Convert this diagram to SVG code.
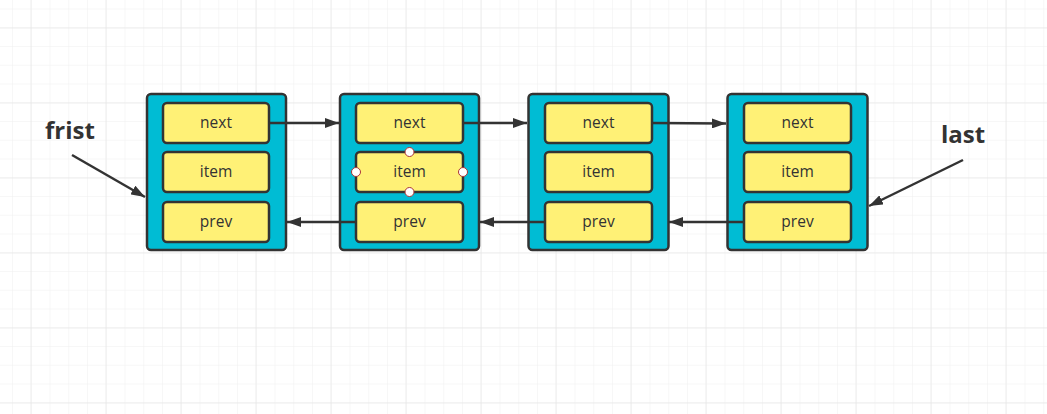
<svg xmlns="http://www.w3.org/2000/svg" width="1047" height="414" viewBox="0 0 1047 414">
<defs>
<pattern id="minor" x="12" y="8.5" width="18.75" height="18.75" patternUnits="userSpaceOnUse">
<path d="M0 0H18.75M0 0V18.75" fill="none" stroke="#f0f0f0" stroke-width="1"/>
</pattern>
<pattern id="major" x="30.5" y="27.5" width="75" height="75" patternUnits="userSpaceOnUse">
<path d="M0 0H75M0 0V75" fill="none" stroke="#e2e2e2" stroke-width="1"/>
</pattern>
<marker id="arr" viewBox="0 0 14 10" refX="14" refY="5" markerWidth="14" markerHeight="10" markerUnits="userSpaceOnUse" orient="auto">
<path d="M0 0L14 5L0 10Z" fill="#333"/>
</marker>
<style>
.outer{fill:#00bcd4;stroke:#333;stroke-width:2.5}
.inner{fill:#fff176;stroke:#333;stroke-width:2.5}
.t{font-family:"Open Sans","Noto Sans",sans-serif;font-size:15.5px;fill:#333;text-anchor:middle}
.big{font-family:"Open Sans","Noto Sans",sans-serif;font-size:24px;font-weight:bold;fill:#333}
.c{fill:none;stroke:#333;stroke-width:2.5;marker-end:url(#arr)}
.h{fill:#fff;stroke:#a33;stroke-width:1}
</style>
</defs>
<rect width="1047" height="414" fill="#fff"/>
<rect width="1047" height="414" fill="url(#minor)"/>
<rect width="1047" height="414" fill="url(#major)"/>

<g id="node1">
<rect class="outer" x="147" y="94" width="139" height="156" rx="4"/>
<rect class="inner" x="163" y="103" width="106" height="40" rx="4"/>
<rect class="inner" x="163" y="152" width="106" height="40" rx="4"/>
<rect class="inner" x="163" y="202" width="106" height="40" rx="4"/>
<text class="t" x="216" y="128">next</text>
<text class="t" x="216" y="177">item</text>
<text class="t" x="216" y="227">prev</text>
</g>
<g id="node2">
<rect class="outer" x="340" y="94" width="139" height="156" rx="4"/>
<rect class="inner" x="356" y="103" width="107" height="40" rx="4"/>
<rect class="inner" x="356" y="152" width="107" height="40" rx="4"/>
<rect class="inner" x="356" y="202" width="107" height="40" rx="4"/>
<text class="t" x="409.5" y="128">next</text>
<text class="t" x="409.5" y="177">item</text>
<text class="t" x="409.5" y="227">prev</text>
<circle class="h" cx="409.5" cy="152" r="4.5"/>
<circle class="h" cx="409.5" cy="192" r="4.5"/>
<circle class="h" cx="356" cy="172" r="4.5"/>
<circle class="h" cx="463" cy="172" r="4.5"/>
</g>
<g id="node3">
<rect class="outer" x="528.5" y="94" width="140" height="156" rx="4"/>
<rect class="inner" x="545" y="103" width="107" height="40" rx="4"/>
<rect class="inner" x="545" y="152" width="107" height="40" rx="4"/>
<rect class="inner" x="545" y="202" width="107" height="40" rx="4"/>
<text class="t" x="598.5" y="128">next</text>
<text class="t" x="598.5" y="177">item</text>
<text class="t" x="598.5" y="227">prev</text>
</g>
<g id="node4">
<rect class="outer" x="727.5" y="94" width="140" height="156" rx="4"/>
<rect class="inner" x="744" y="103" width="107" height="40" rx="4"/>
<rect class="inner" x="744" y="152" width="107" height="40" rx="4"/>
<rect class="inner" x="744" y="202" width="107" height="40" rx="4"/>
<text class="t" x="797.5" y="128">next</text>
<text class="t" x="797.5" y="177">item</text>
<text class="t" x="797.5" y="227">prev</text>
</g>
<g id="label-frist"><text class="big" x="45" y="139">frist</text></g>
<g id="label-last"><text class="big" x="941" y="143">last</text></g>

<g id="connectors">
<path class="c" d="M269 123H339"/>
<path class="c" d="M463 123H527"/>
<path class="c" d="M652 123L726 123.5"/>
<path class="c" d="M356 222H287"/>
<path class="c" d="M545 222H480"/>
<path class="c" d="M744 222H669"/>
<path class="c" d="M72 155L145 197"/>
<path class="c" d="M963 160L869 206"/>
</g>
</svg>
